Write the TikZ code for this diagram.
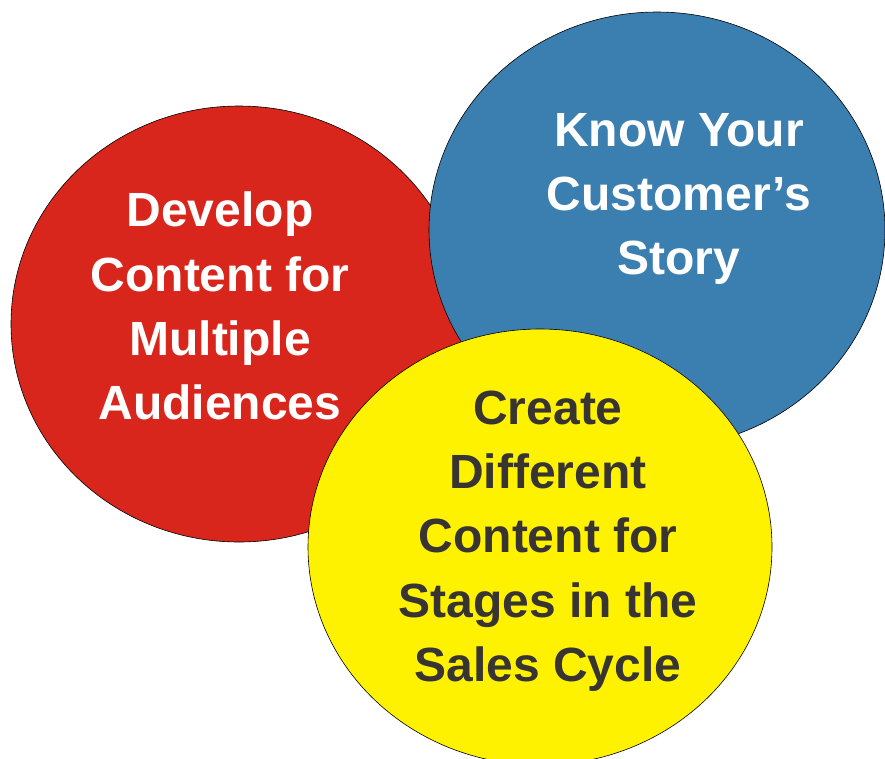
\documentclass[tikz,border=0pt]{standalone}
\usepackage{fontspec}
\setmainfont{Liberation Sans}
\usepackage{tikz}
\definecolor{redish}{RGB}{217, 38, 29}
\definecolor{blueish}{RGB}{59, 126, 176}
\definecolor{yellowish}{RGB}{255, 242, 0}
\definecolor{darkish}{RGB}{56, 52, 50}
\usetikzlibrary{shapes.geometric}
\tikzset{
  bubble/.style = {ellipse, draw=black, line width=0.6pt, inner sep=0pt,
    minimum width=456pt, minimum height=436pt},% cercle de fond
  bub_t/.style = {align=center, inner sep=0pt, text centered,
    font=\fontsize{48}{64.3}\selectfont\bfseries},% texte blanc
  bub_d/.style = {bub_t, darkish},% texte fonce
}

\begin{document}
\begin{tikzpicture}[x=1pt, y=-1pt]
\useasboundingbox (0,0) rectangle (885,758);
% les trois cercles, le jaune par-dessus
\node [bubble, fill=redish] (develop) at (239,324) {};
\node [bubble, fill=blueish] (know) at (657,230) {};
\node [bubble, fill=yellowish, minimum width=464pt] (create) at (540,547) {};
% textes
\node [bub_t, white] (develop_t) at (220,306)
  {Develop\\Content for\\Multiple\\Audiences};
\node [bub_t, white] (know_t) at (679,199)
  {Know Your\\Customer’s\\Story};
\node [bub_d] (create_t) at (548,541)
  {Create\\Different\\Content for\\Stages in the\\Sales Cycle};
\end{tikzpicture}
\end{document}
